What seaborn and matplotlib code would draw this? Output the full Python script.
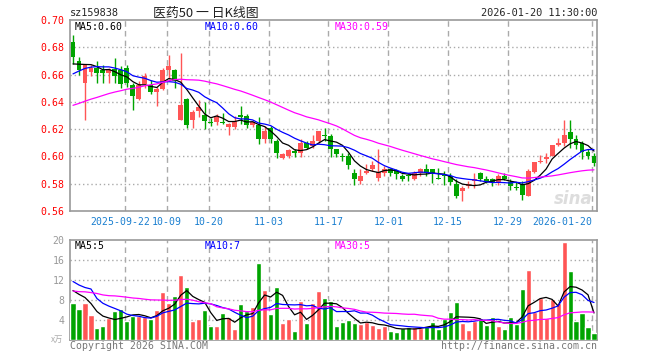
import math
import numpy as np
import pandas as pd
import seaborn as sns
import matplotlib.pyplot as plt

# ── Data (sz159838) ──────────────────────────────────────────────────────────
open_ = [0.684, 0.670, 0.654, 0.662, 0.6645, 0.663, 0.661, 0.664, 0.6635, 0.665,
         0.652, 0.642, 0.653, 0.6525, 0.6475, 0.6495, 0.6635, 0.6635, 0.627, 0.642,
         0.627, 0.633, 0.630, 0.625, 0.625, 0.6255, 0.6217, 0.6217, 0.6300, 0.6298,
         0.6229, 0.6229, 0.6131, 0.6212, 0.6114, 0.5991, 0.6003, 0.604, 0.6028, 0.6101,
         0.6077, 0.6114, 0.6155, 0.6151, 0.6052, 0.5999, 0.6003, 0.5875, 0.5818, 0.5875,
         0.5905, 0.5843, 0.588, 0.5905, 0.5892, 0.586, 0.5862, 0.5836, 0.5875, 0.5905,
         0.5905, 0.5840, 0.5862, 0.586, 0.5801, 0.5745, 0.5782, 0.5818, 0.5875, 0.5831,
         0.5836, 0.5806, 0.5855, 0.5811, 0.5775, 0.5801, 0.5713, 0.5887, 0.5958, 0.5983,
         0.6001, 0.6082, 0.6096, 0.618, 0.6126, 0.6101, 0.6032, 0.6003]
high = [0.689, 0.673, 0.668, 0.667, 0.670, 0.667, 0.665, 0.672, 0.666, 0.667,
        0.654, 0.655, 0.661, 0.656, 0.651, 0.665, 0.6745, 0.664, 0.6755, 0.643,
        0.634, 0.641, 0.640, 0.628, 0.631, 0.632, 0.6245, 0.6295, 0.6367, 0.631,
        0.6261, 0.6286, 0.6224, 0.6224, 0.6126, 0.6028, 0.6052, 0.6052, 0.6126, 0.6114,
        0.6155, 0.6187, 0.6212, 0.6163, 0.6052, 0.6027, 0.6027, 0.5905, 0.5905, 0.5941,
        0.5966, 0.6052, 0.5929, 0.5917, 0.5905, 0.5868, 0.5868, 0.5892, 0.5917, 0.5941,
        0.5905, 0.5913, 0.5893, 0.5880, 0.5831, 0.5782, 0.5818, 0.5875, 0.5885, 0.5855,
        0.5843, 0.5868, 0.5875, 0.5836, 0.5811, 0.5818, 0.5910, 0.5959, 0.6010, 0.6022,
        0.6087, 0.6138, 0.6269, 0.6269, 0.6155, 0.6114, 0.6052, 0.6027]
low = [0.668, 0.660, 0.627, 0.659, 0.654, 0.654, 0.654, 0.654, 0.650, 0.651,
       0.634, 0.641, 0.650, 0.646, 0.637, 0.649, 0.657, 0.650, 0.6268, 0.6205,
       0.621, 0.629, 0.620, 0.622, 0.623, 0.6235, 0.6155, 0.6198, 0.6237, 0.6212,
       0.6217, 0.609, 0.610, 0.610, 0.599, 0.5984, 0.5991, 0.5998, 0.5998, 0.6052,
       0.6064, 0.6095, 0.6114, 0.5998, 0.5993, 0.5966, 0.5905, 0.5794, 0.5801, 0.5868,
       0.5892, 0.5818, 0.5855, 0.5855, 0.5836, 0.5818, 0.5818, 0.583, 0.586, 0.5855,
       0.5806, 0.5831, 0.5794, 0.5794, 0.5696, 0.5671, 0.5770, 0.5770, 0.5818, 0.5806,
       0.5782, 0.5794, 0.5826, 0.5757, 0.5757, 0.5683, 0.5713, 0.5877, 0.5953, 0.5949,
       0.6001, 0.6077, 0.6077, 0.6064, 0.6057, 0.5984, 0.5984, 0.5929]
close = [0.673, 0.663, 0.667, 0.6645, 0.6615, 0.6615, 0.664, 0.659, 0.653, 0.654,
         0.644, 0.6525, 0.659, 0.6475, 0.6495, 0.6635, 0.666, 0.655, 0.638, 0.623,
         0.6325, 0.636, 0.626, 0.6242, 0.6298, 0.6242, 0.6237, 0.6261, 0.6292, 0.6229,
         0.6254, 0.6131, 0.6187, 0.6131, 0.6028, 0.6015, 0.6047, 0.6022, 0.6101, 0.6064,
         0.6114, 0.6187, 0.6150, 0.6052, 0.602, 0.5997, 0.5934, 0.5836, 0.586, 0.5892,
         0.5936, 0.5885, 0.591, 0.588, 0.5868, 0.5836, 0.5858, 0.588, 0.5905, 0.5875,
         0.5875, 0.5836, 0.5858, 0.5811, 0.5713, 0.577, 0.5801, 0.5836, 0.5836, 0.5811,
         0.5811, 0.5855, 0.5836, 0.5782, 0.5770, 0.572, 0.5892, 0.5959, 0.5968, 0.5998,
         0.6087, 0.6096, 0.6155, 0.6126, 0.6082, 0.6032, 0.6003, 0.5954]
volume = [7.4, 6.3, 7.4, 5.0, 2.4, 2.8, 4.4, 5.9, 6.2, 3.8,
          4.8, 4.8, 4.6, 4.2, 6.0, 9.6, 7.4, 8.8, 13.0, 10.6,
          3.8, 4.2, 6.0, 2.8, 2.8, 5.4, 4.6, 2.2, 7.2, 5.8,
          6.6, 15.4, 10.0, 5.2, 10.6, 3.4, 4.2, 1.8, 7.8, 3.4,
          7.4, 9.8, 8.4, 7.8, 2.8, 3.6, 4.0, 3.4, 3.2, 3.6,
          3.0, 2.4, 2.8, 1.8, 1.6, 2.4, 2.6, 2.6, 2.4, 2.8,
          3.6, 2.2, 4.2, 5.6, 7.6, 3.4, 2.0, 3.8, 4.4, 3.0,
          4.6, 2.8, 2.2, 4.6, 3.2, 10.2, 14.0, 5.6, 8.4, 4.4,
          8.2, 7.4, 19.6, 13.8, 3.8, 5.4, 2.6, 1.4]

# sessions before the visible window, estimated from where the MA lines start;
# they only feed the moving averages and are not drawn
prior_close = [0.621, 0.618, 0.620, 0.623, 0.619, 0.622, 0.625, 0.624, 0.621, 0.626,
               0.628, 0.625, 0.627, 0.630, 0.629, 0.632, 0.628, 0.631, 0.634, 0.636,
               0.642, 0.648, 0.655, 0.658, 0.663, 0.664, 0.668, 0.665, 0.669]
prior_volume = [10.2, 8.4, 9.6, 7.8, 11.5, 8.9, 7.2, 9.8, 8.1, 9.5,
                7.5, 9.2, 8.0, 6.8, 10.4, 8.7, 7.9, 9.6, 8.3, 9.6,
                13.3, 12.4, 8.0, 21.4, 12.4, 10.1, 10.6, 11.0, 10.4]

date_labels = ["2025-09-22", "10-09", "10-20", "11-03", "11-17",
               "12-01", "12-15", "12-29", "2026-01-20"]
date_index = [9, 16, 23, 33, 43, 53, 63, 73, 87]

# ── Constants ─────────────────────────────────────────────────────────────────
RED   = "#ff5555"
GREEN = "#00a400"
GRID  = "#aaaaaa"
FRAME = "#999999"
MONO  = "DejaVu Sans Mono"
CJK   = ["Noto Sans CJK SC", "DejaVu Sans"]
W, H  = 660, 360

sns.set_style("white")
plt.rcParams["font.family"] = [MONO, "Noto Sans CJK SC"]

n   = len(close)
idx = np.arange(n)
o, h, l, c = map(np.array, (open_, high, low, close))
up     = c >= o
colors = np.where(up, RED, GREEN)

npre  = len(prior_close)
all_c = pd.Series(prior_close + close)
all_v = pd.Series(prior_volume + volume)
ma  = {k: all_c.rolling(k).mean().values[npre:] for k in (5, 10, 30)}
vma = {k: all_v.rolling(k).mean().values[npre:] for k in (5, 10, 30)}
ma_colors = {5: "black", 10: "#0000ff", 30: "#ff00ff"}


def px_ax(fig, left, top, right, bottom):
    return fig.add_axes([left / W, 1 - bottom / H, (right - left) / W, (bottom - top) / H])


fig = plt.figure(figsize=(6.6, 3.6), dpi=100)
ax1 = px_ax(fig, 70, 20, 597, 211)
ax2 = px_ax(fig, 70, 240, 597, 340)

# ── Price panel ───────────────────────────────────────────────────────────────
ax1.vlines(idx, l, h, colors=colors, lw=1, zorder=3)
body_h = np.maximum(np.abs(c - o), 0.0006)
ax1.bar(idx, body_h, bottom=np.minimum(o, c), width=0.82, color=colors, lw=0, zorder=3)
for k in (5, 10, 30):
    sns.lineplot(x=idx, y=ma[k], color=ma_colors[k], lw=0.9, ax=ax1, zorder=4)

ax1.set_ylim(0.56, 0.70)
yt = np.round(np.arange(0.56, 0.7001, 0.02), 2)
ax1.set_yticks(yt)
ax1.set_yticklabels([f"{v:.2f}" for v in yt], color="red", fontsize=7.1, family=MONO)
for v in yt[1:-1]:
    ax1.axhline(v, color=GRID, lw=1, ls=(0, (1, 2)), zorder=1)

# ── Volume panel ──────────────────────────────────────────────────────────────
vol_df = pd.DataFrame({"idx": idx, "vol": volume, "dir": np.where(up, "up", "down")})
sns.barplot(data=vol_df, x="idx", y="vol", hue="dir", palette={"up": RED, "down": GREEN},
            dodge=False, width=0.85, saturation=1, legend=False, ax=ax2, zorder=3)
for k in (5, 10, 30):
    sns.lineplot(x=idx, y=vma[k], color=ma_colors[k], lw=0.9, ax=ax2, zorder=4)

ax2.set_ylim(0, 20)
ax2.set_yticks([4, 8, 12, 16, 20])
ax2.set_yticklabels(["4", "8", "12", "16", "20"], color="#999999", fontsize=7.1, family=MONO)
for v in (4, 8, 12, 16):
    ax2.axhline(v, color=GRID, lw=1, ls=(0, (1, 2)), zorder=1)
ax2.text(-0.013, 0.01, "x万", transform=ax2.transAxes, ha="right", va="center",
         fontsize=6, color="#aaaaaa", family=CJK)

# ── Shared styling ────────────────────────────────────────────────────────────
grid_x = np.array(date_index) - 0.35
for ax in (ax1, ax2):
    ax.set_xlim(-0.5, n - 0.5)
    ax.set_xlabel("")
    ax.set_ylabel("")
    for x in grid_x:
        ax.axvline(x, color=GRID, lw=1, ls=(0, (4, 3)), zorder=1)
    for s in ax.spines.values():
        s.set_color(FRAME)
        s.set_linewidth(1.2)
    ax.tick_params(axis="y", length=0, pad=4)
    ax.tick_params(axis="x", length=0)
    ax.set_xticks([])

# date labels under the price panel; first one nudged left, last one ends at its line
date_shift = [-0.7] + [0] * (len(date_labels) - 1)
date_ha = ["center"] * (len(date_labels) - 1) + ["right"]
for x, lab, dx, ha in zip(grid_x, date_labels, date_shift, date_ha):
    ax1.text(x + dx, -11 / 191, lab, transform=ax1.get_xaxis_transform(), ha=ha,
             va="center", color="#1a7fd0", fontsize=7.1, family=MONO)

# ── Legends inside panels ─────────────────────────────────────────────────────
def trunc(v, d):
    f = 10 ** d
    return math.floor(v * f) / f

leg_x = {5: 5 / 527, 10: 135 / 527, 30: 265 / 527}
for k in (5, 10, 30):
    ax1.text(leg_x[k], 1 - 7 / 191, f"MA{k}:{trunc(ma[k][-1], 2):.2f}", transform=ax1.transAxes,
             color=ma_colors[k], fontsize=7.1, family=MONO, va="center", ha="left", zorder=5)
    ax2.text(leg_x[k], 1 - 6 / 100, f"MA{k}:{int(vma[k][-1])}", transform=ax2.transAxes,
             color=ma_colors[k], fontsize=7.1, family=MONO, va="center", ha="left", zorder=5)

ax1.text(n - 1.2, 0.5625, "sina", ha="right", va="bottom", fontsize=12, fontweight="bold",
         style="italic", color="#dddddd", family="DejaVu Sans", zorder=2)

# ── Header / footer text ──────────────────────────────────────────────────────
fig.text(70 / W, 1 - 13 / H, "sz159838", ha="left", va="center", fontsize=7.4, family=MONO)
fig.text(206 / W, 1 - 13 / H, "医药50 一 日K线图", ha="center", va="center", fontsize=9.3,
         family=CJK, color="#222222")
fig.text(597 / W, 1 - 13 / H, "2026-01-20 11:30:00", ha="right", va="center", fontsize=7.4,
         family=MONO)
fig.text(70 / W, 1 - 346 / H, "Copyright 2026 SINA.COM", ha="left", va="center",
         fontsize=7.1, family=MONO, color="#777777")
fig.text(597 / W, 1 - 346 / H, "http://finance.sina.com.cn", ha="right", va="center",
         fontsize=7.1, family=MONO, color="#777777")

fig.savefig("out.png", dpi=100)
